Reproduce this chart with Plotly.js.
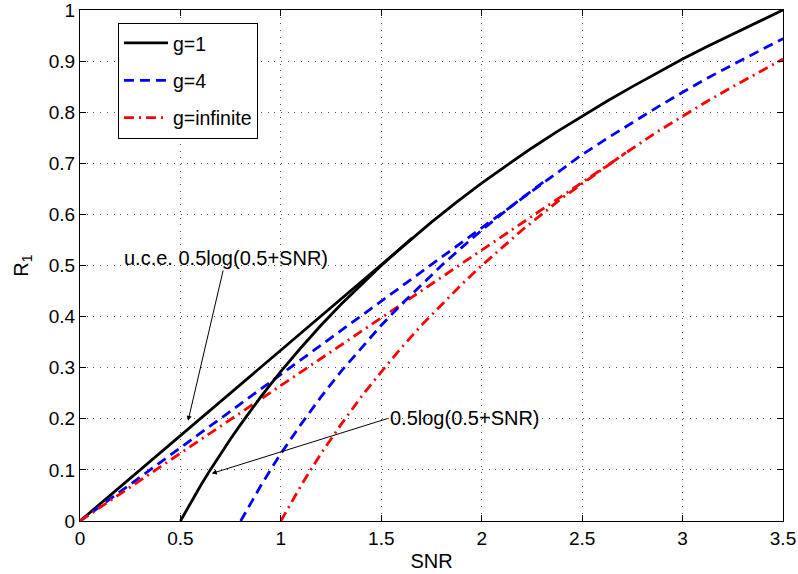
<!DOCTYPE html>
<html>
<head>
<meta charset="utf-8">
<script src="https://cdn.plot.ly/plotly-3.0.1.min.js"></script>
<style>html,body{margin:0;padding:0;background:#fff;}#chart{width:798px;height:574px;}</style>
</head>
<body>
<div id="chart"></div>
<script>
// g=1 : upper concave envelope and base curve 0.5log(0.5+SNR)
var g1EnvX = [0, 1.655, 1.75, 1.875, 2.0, 2.125, 2.25, 2.375, 2.5, 2.625, 2.75, 2.875, 3.0, 3.125, 3.25, 3.375, 3.5];
var g1EnvY = [0, 0.554, 0.585, 0.624, 0.661, 0.696, 0.730, 0.762, 0.792, 0.822, 0.850, 0.877, 0.904, 0.929, 0.953, 0.977, 1.0];
var g1BaseX = [0.5, 0.55, 0.6, 0.65, 0.7, 0.75, 0.8, 0.85, 0.9, 0.95, 1.0, 1.1, 1.2, 1.3, 1.4, 1.5, 1.6, 1.655];
var g1BaseY = [0, 0.035, 0.069, 0.101, 0.132, 0.161, 0.189, 0.217, 0.243, 0.268, 0.293, 0.339, 0.383, 0.424, 0.463, 0.5, 0.535, 0.554];
// g=4
var g4EnvX = [0, 2.31, 2.4, 2.5, 2.625, 2.75, 2.875, 3.0, 3.125, 3.25, 3.375, 3.5];
var g4EnvY = [0, 0.664, 0.689, 0.717, 0.749, 0.780, 0.810, 0.839, 0.867, 0.893, 0.919, 0.944];
var g4BaseX = [0.8, 0.85, 0.9, 0.95, 1.0, 1.1, 1.2, 1.3, 1.4, 1.5, 1.6, 1.7, 1.8, 1.9, 2.0, 2.1, 2.2, 2.31];
var g4BaseY = [0, 0.035, 0.069, 0.101, 0.132, 0.189, 0.243, 0.293, 0.339, 0.383, 0.424, 0.463, 0.5, 0.535, 0.569, 0.601, 0.632, 0.664];
// g=infinite
var gInfEnvX = [0, 2.718, 2.875, 3.0, 3.125, 3.25, 3.375, 3.5];
var gInfEnvY = [0, 0.721, 0.762, 0.792, 0.822, 0.850, 0.877, 0.904];
var gInfBaseX = [1.0, 1.05, 1.1, 1.15, 1.2, 1.3, 1.4, 1.5, 1.6, 1.7, 1.8, 1.9, 2.0, 2.2, 2.4, 2.6, 2.718];
var gInfBaseY = [0, 0.035, 0.069, 0.101, 0.132, 0.189, 0.243, 0.292, 0.339, 0.383, 0.424, 0.463, 0.5, 0.569, 0.632, 0.689, 0.721];

var seriesNames = ['g=1', 'g=4', 'g=infinite'];
var xTicks = [0, 0.5, 1, 1.5, 2, 2.5, 3, 3.5];
var xTickText = ['0', '0.5', '1', '1.5', '2', '2.5', '3', '3.5'];
var yTicks = [0, 0.1, 0.2, 0.3, 0.4, 0.5, 0.6, 0.7, 0.8, 0.9, 1];
var yTickText = ['0', '0.1', '0.2', '0.3', '0.4', '0.5', '0.6', '0.7', '0.8', '0.9', '1'];

var FONT = 'Liberation Sans, Arial, Helvetica, sans-serif';
var blackLine = {color: '#000000', width: 2.8};
var blueLine = {color: '#0000ff', width: 2.8, dash: '10px,6px'};
var redLine = {color: '#ff0000', width: 2.8, dash: '10px,5px,2px,5px'};

var traces = [
  {x: g1EnvX, y: g1EnvY, mode: 'lines', name: seriesNames[0], line: blackLine, legendgroup: 'a'},
  {x: g4EnvX, y: g4EnvY, mode: 'lines', name: seriesNames[1], line: blueLine, legendgroup: 'b'},
  {x: gInfEnvX, y: gInfEnvY, mode: 'lines', name: seriesNames[2], line: redLine, legendgroup: 'c'},
  {x: g1BaseX, y: g1BaseY, mode: 'lines', showlegend: false, line: blackLine, legendgroup: 'a'},
  {x: g4BaseX, y: g4BaseY, mode: 'lines', showlegend: false, line: blueLine, legendgroup: 'b'},
  {x: gInfBaseX, y: gInfBaseY, mode: 'lines', showlegend: false, line: redLine, legendgroup: 'c'}
];

var axisCommon = {
  showline: true, linecolor: '#000', linewidth: 1, mirror: 'ticks',
  ticks: 'inside', ticklen: 6, tickwidth: 1, tickcolor: '#000',
  showgrid: true, gridcolor: '#555555', griddash: '1px,5.7px', gridwidth: 1,
  zeroline: false, ticklabeloverflow: 'allow',
  tickfont: {family: FONT, size: 19, color: '#000'}
};

var layout = {
  width: 798, height: 574,
  margin: {l: 80, r: 15, t: 10, b: 53},
  paper_bgcolor: '#fff', plot_bgcolor: '#fff',
  font: {family: FONT, size: 20, color: '#000'},
  xaxis: Object.assign({}, axisCommon, {
    range: [0, 3.5], tickmode: 'array', tickvals: xTicks, ticktext: xTickText,
    title: {text: 'SNR', font: {family: FONT, size: 20}, standoff: 6}
  }),
  yaxis: Object.assign({}, axisCommon, {
    range: [0, 1], tickmode: 'array', tickvals: yTicks, ticktext: yTickText,
    title: {text: 'R<sub>1</sub>', font: {family: FONT, size: 20}, standoff: 14}
  }),
  legend: {
    x: 0.054, y: 0.975, xanchor: 'left', yanchor: 'top',
    bgcolor: '#fff', bordercolor: '#000', borderwidth: 1,
    font: {family: FONT, size: 19.5, color: '#000'},
    itemwidth: 44, tracegroupgap: 9
  },
  showlegend: true,
  annotations: [
    {x: 0.538, y: 0.196, xref: 'x', yref: 'y', text: 'u.c.e. 0.5log(0.5+SNR)',
     showarrow: true, axref: 'pixel', ayref: 'pixel', ax: 38, ay: -163,
     arrowhead: 2, arrowsize: 1, arrowwidth: 1, arrowcolor: '#000',
     font: {family: FONT, size: 20, color: '#000'}},
    {x: 0.656, y: 0.093, xref: 'x', yref: 'y', text: '0.5log(0.5+SNR)',
     showarrow: true, axref: 'pixel', ayref: 'pixel', ax: 176, ay: -55,
     xanchor: 'left', yanchor: 'middle',
     arrowhead: 2, arrowsize: 1, arrowwidth: 1, arrowcolor: '#000',
     font: {family: FONT, size: 20, color: '#000'}}
  ]
};

Plotly.newPlot('chart', traces, layout, {displayModeBar: false, staticPlot: true});
</script>
</body>
</html>
